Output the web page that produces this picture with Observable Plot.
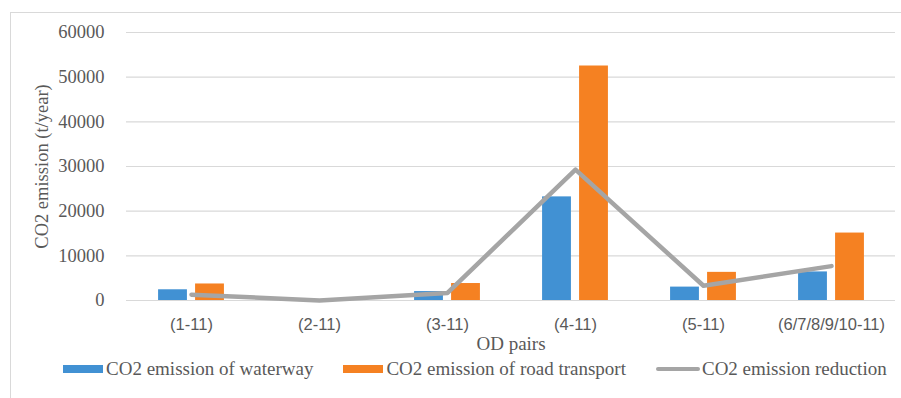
<!DOCTYPE html>
<html>
<head>
<meta charset="utf-8">
<script src="https://cdn.jsdelivr.net/npm/d3@7"></script>
<script src="https://cdn.jsdelivr.net/npm/@observablehq/plot@0.6"></script>
<style>
  html, body { margin: 0; padding: 0; background: #fff; }
  #chart { position: relative; width: 901px; height: 398px; overflow: hidden; }
  #frame { position: absolute; left: 10px; top: 12px; width: 1000px; height: 500px;
           border-left: 1px solid #d9d9d9; border-top: 1px solid #d9d9d9; }
  #plot { position: absolute; left: 0; top: 0; }
  #legend { position: absolute; left: 63px; top: 358px; display: flex; align-items: center;
            font-family: "Liberation Serif", "Times New Roman", serif; font-size: 19px; color: #595959; white-space: nowrap; }
  #legend .item { display: flex; align-items: center; margin-right: 30px; }
  #legend .sw { width: 40px; height: 8px; margin-right: 3px; }
  #legend .ln { width: 44px; height: 4px; margin-right: 2px; border-radius: 2px; }
</style>
</head>
<body>
<div id="chart">
  <div id="frame"></div>
  <div id="plot"></div>
  <div id="legend"></div>
</div>
<script>
// OD pairs and annual CO2 figures (t/year)
const categories = ["(1-11)", "(2-11)", "(3-11)", "(4-11)", "(5-11)", "(6/7/8/9/10-11)"];
const waterway  = [2400, 0, 2000, 23200, 3000, 6400];
const road      = [3700, 0, 3800, 52500, 6300, 15100];
const reduction = [1300, 0, 1700, 29300, 3300, 7700];
const yTicks = [0, 10000, 20000, 30000, 40000, 50000, 60000];

const seriesNames = ["CO2 emission of waterway", "CO2 emission of road transport", "CO2 emission reduction"];
const colors = ["#4191d3", "#f58122", "#a5a5a5"];

const SERIF = '"Liberation Serif", "Times New Roman", serif';
const SANS = '"Liberation Sans", Arial, sans-serif';

const W = 901, H = 355;
const mL = 126, mR = 6, mT = 32, mB = 55;
const band = (W - mL - mR) / categories.length;
const barW = 29, gap = 8;

const rows = categories.map((c, i) => ({cat: c, waterway: waterway[i], road: road[i], reduction: reduction[i]}));

const chart = Plot.plot({
  width: W,
  height: H,
  marginLeft: mL,
  marginRight: mR,
  marginTop: mT,
  marginBottom: mB,
  style: {background: "transparent", overflow: "visible", fontFamily: SERIF},
  x: {type: "band", domain: categories, padding: 0},
  y: {domain: [0, 60000]},
  marks: [
    Plot.gridY(yTicks, {stroke: "#d9d9d9", strokeOpacity: 1, strokeWidth: 1.2}),
    Plot.axisY(yTicks, {
      tickSize: 0, tickPadding: 22, tickFormat: d3.format("d"),
      color: "#595959", fontSize: 18.5,
      label: "CO2 emission (t/year)", labelAnchor: "center", labelArrow: "none", labelOffset: 92
    }),
    Plot.axisX({
      tickSize: 0, tickPadding: 18, color: "#595959", fontSize: 16.5,
      label: null
    }),
    Plot.axisX({
      ticks: [], tickSize: 0, color: "#595959", fontSize: 19,
      label: "OD pairs", labelAnchor: "center", labelArrow: "none", labelOffset: 49
    }),
    Plot.barY(rows, {
      x: "cat", y: "waterway", fill: colors[0],
      insetLeft: band / 2 - gap / 2 - barW, insetRight: band / 2 + gap / 2
    }),
    Plot.barY(rows, {
      x: "cat", y: "road", fill: colors[1],
      insetLeft: band / 2 + gap / 2, insetRight: band / 2 - gap / 2 - barW
    }),
    Plot.line(rows, {
      x: "cat", y: "reduction", stroke: colors[2], strokeWidth: 4.5,
      strokeLinejoin: "round", strokeLinecap: "round"
    })
  ]
});

// Category names use a sans-serif face; every other text stays serif
chart.querySelectorAll("g[aria-label]").forEach((g) => {
  if (/x-axis tick label/.test(g.getAttribute("aria-label"))) {
    g.setAttribute("font-family", SANS);
    g.style.fontFamily = SANS;
  }
});
document.getElementById("plot").appendChild(chart);

// Legend below the plot
const legend = document.getElementById("legend");
seriesNames.forEach((name, i) => {
  const item = document.createElement("div");
  item.className = "item";
  const sw = document.createElement("span");
  sw.className = i < 2 ? "sw" : "ln";
  sw.style.background = colors[i];
  const label = document.createElement("span");
  label.textContent = name;
  item.appendChild(sw);
  item.appendChild(label);
  legend.appendChild(item);
});
</script>
</body>
</html>
